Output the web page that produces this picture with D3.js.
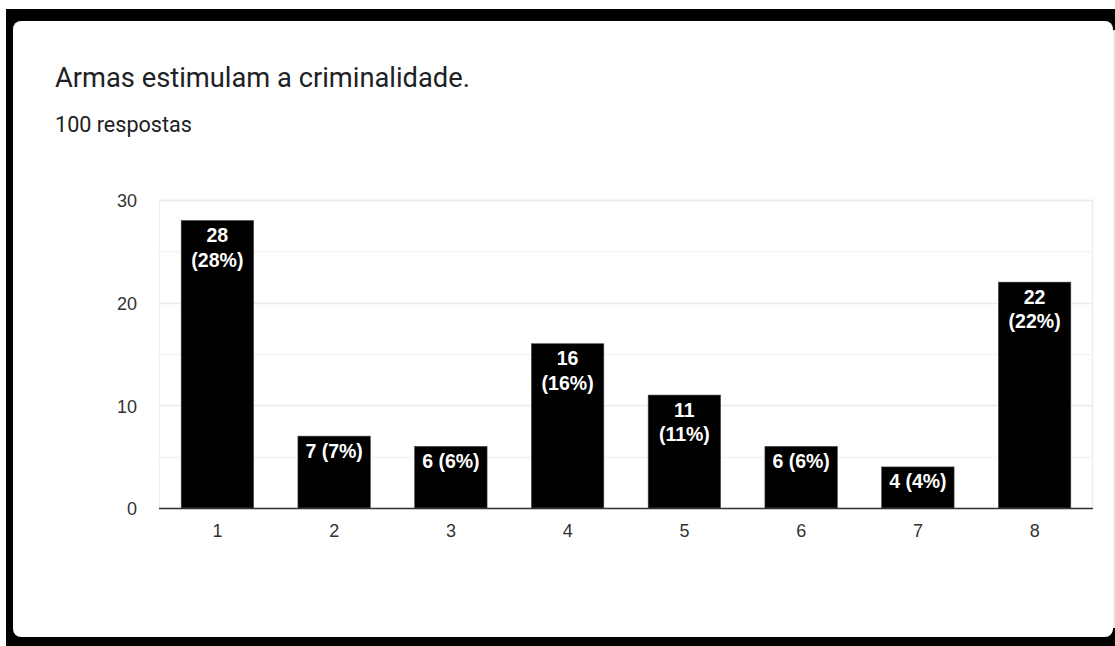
<!DOCTYPE html>
<html>
<head>
<meta charset="utf-8">
<script src="https://cdn.jsdelivr.net/npm/d3@7"></script>
<style>
  html, body { margin: 0; padding: 0; background: #fff; }
  svg { display: block; }
</style>
</head>
<body>
<svg id="chart" width="1115" height="646"></svg>
<script>
const title = "Armas estimulam a criminalidade.";
const subtitle = "100 respostas";
const categories = ["1", "2", "3", "4", "5", "6", "7", "8"];
const values = [28, 7, 6, 16, 11, 6, 4, 22];
const totalResponses = 100;
const yTicks = [0, 10, 20, 30];
const yMinorTicks = [5, 15, 25];

(function () {
const svg = d3.select("#chart");

// frame + card
svg.append("rect").attr("x", 6).attr("y", 9).attr("width", 1109).attr("height", 637).attr("fill", "#000");
svg.append("rect").attr("x", 13).attr("y", 21).attr("width", 1100).attr("height", 616)
  .attr("rx", 8).attr("fill", "#fff");
svg.append("rect").attr("x", 1113).attr("y", 30).attr("width", 2).attr("height", 598).attr("fill", "#ececec");

// titles
function fitText(sel, targetWidth, base) {
  sel.attr("font-size", base);
  const w = sel.node().getComputedTextLength();
  sel.attr("font-size", base * targetWidth / w);
}
const t = svg.append("text").attr("x", 55).attr("y", 87)
  .attr("font-family", "Roboto, 'Noto Sans', sans-serif")
  .attr("fill", "#202124").text(title);
fitText(t, 415, 20);
const st = svg.append("text").attr("x", 55).attr("y", 132)
  .attr("font-family", "Roboto, 'Noto Sans', sans-serif")
  .attr("fill", "#202124").text(subtitle);
fitText(st, 137, 16);

// scales
const pLeft = 159, pRight = 1093, pTop = 200, pBottom = 508;
const x = d3.scaleBand().domain(categories).range([pLeft, pRight]).paddingInner(0.38).paddingOuter(0.19);
const y = d3.scaleLinear().domain([0, 30]).range([pBottom, pTop]);

// plot border
svg.append("rect").attr("x", pLeft + 0.5).attr("y", pTop + 0.5).attr("width", pRight - pLeft - 1).attr("height", pBottom - pTop)
  .attr("fill", "none").attr("stroke", "#eeeeee").attr("stroke-width", 1.5);

// grid
svg.append("g").selectAll("line").data(yMinorTicks).join("line")
  .attr("x1", pLeft).attr("x2", pRight)
  .attr("y1", d => Math.round(y(d)) + 0.5).attr("y2", d => Math.round(y(d)) + 0.5)
  .attr("stroke", "#f3f3f3").attr("stroke-width", 1.5);
svg.append("g").selectAll("line").data(yTicks.filter(d => d > 0)).join("line")
  .attr("x1", pLeft).attr("x2", pRight)
  .attr("y1", d => Math.round(y(d)) + 0.5).attr("y2", d => Math.round(y(d)) + 0.5)
  .attr("stroke", "#ebebeb").attr("stroke-width", 1.5);

// y axis labels
const yAxis = d3.axisLeft(y).tickValues(yTicks).tickSize(0).tickPadding(22);
const yg = svg.append("g").attr("transform", `translate(${pLeft},0)`).call(yAxis);
yg.select(".domain").remove();
yg.selectAll("text").attr("font-family", "Arial, 'Liberation Sans', sans-serif")
  .attr("font-size", 18).attr("fill", "#333").attr("dy", "0.38em");

// bars
const data = categories.map((c, i) => ({ c, v: values[i] }));
svg.append("g").selectAll("rect").data(data).join("rect")
  .attr("x", d => x(d.c)).attr("y", d => y(d.v))
  .attr("width", x.bandwidth()).attr("height", d => y(0) - y(d.v))
  .attr("fill", "#000").attr("stroke", "#444").attr("stroke-width", 0.6);

// x axis
const xAxis = d3.axisBottom(x).tickSize(0).tickPadding(16);
const xg = svg.append("g").attr("transform", `translate(0,${pBottom})`).call(xAxis);
xg.select(".domain").remove();
xg.selectAll("text").attr("font-family", "Arial, 'Liberation Sans', sans-serif")
  .attr("font-size", 18).attr("fill", "#333");
svg.append("line").attr("x1", pLeft).attr("x2", pRight).attr("y1", pBottom + 0.5).attr("y2", pBottom + 0.5)
  .attr("stroke", "#333").attr("stroke-width", 1.3);

// bar labels
const lab = svg.append("g").attr("font-family", "Arial, 'Liberation Sans', sans-serif")
  .attr("font-size", 19.5).attr("font-weight", "bold").attr("fill", "#fff").attr("text-anchor", "middle");
data.forEach(d => {
  const pct = Math.round(d.v / totalResponses * 100);
  const one = `${d.v} (${pct}%)`;
  const cx = x(d.c) + x.bandwidth() / 2;
  const ty = y(d.v);
  const tmp = lab.append("text").attr("x", cx).attr("y", ty + 21.5).text(one);
  const w = tmp.node().getComputedTextLength();
  if (w > x.bandwidth() - 4) {
    tmp.text(`${d.v}`);
    lab.append("text").attr("x", cx).attr("y", ty + 46).text(`(${pct}%)`);
  }
});
})();
</script>
</body>
</html>
